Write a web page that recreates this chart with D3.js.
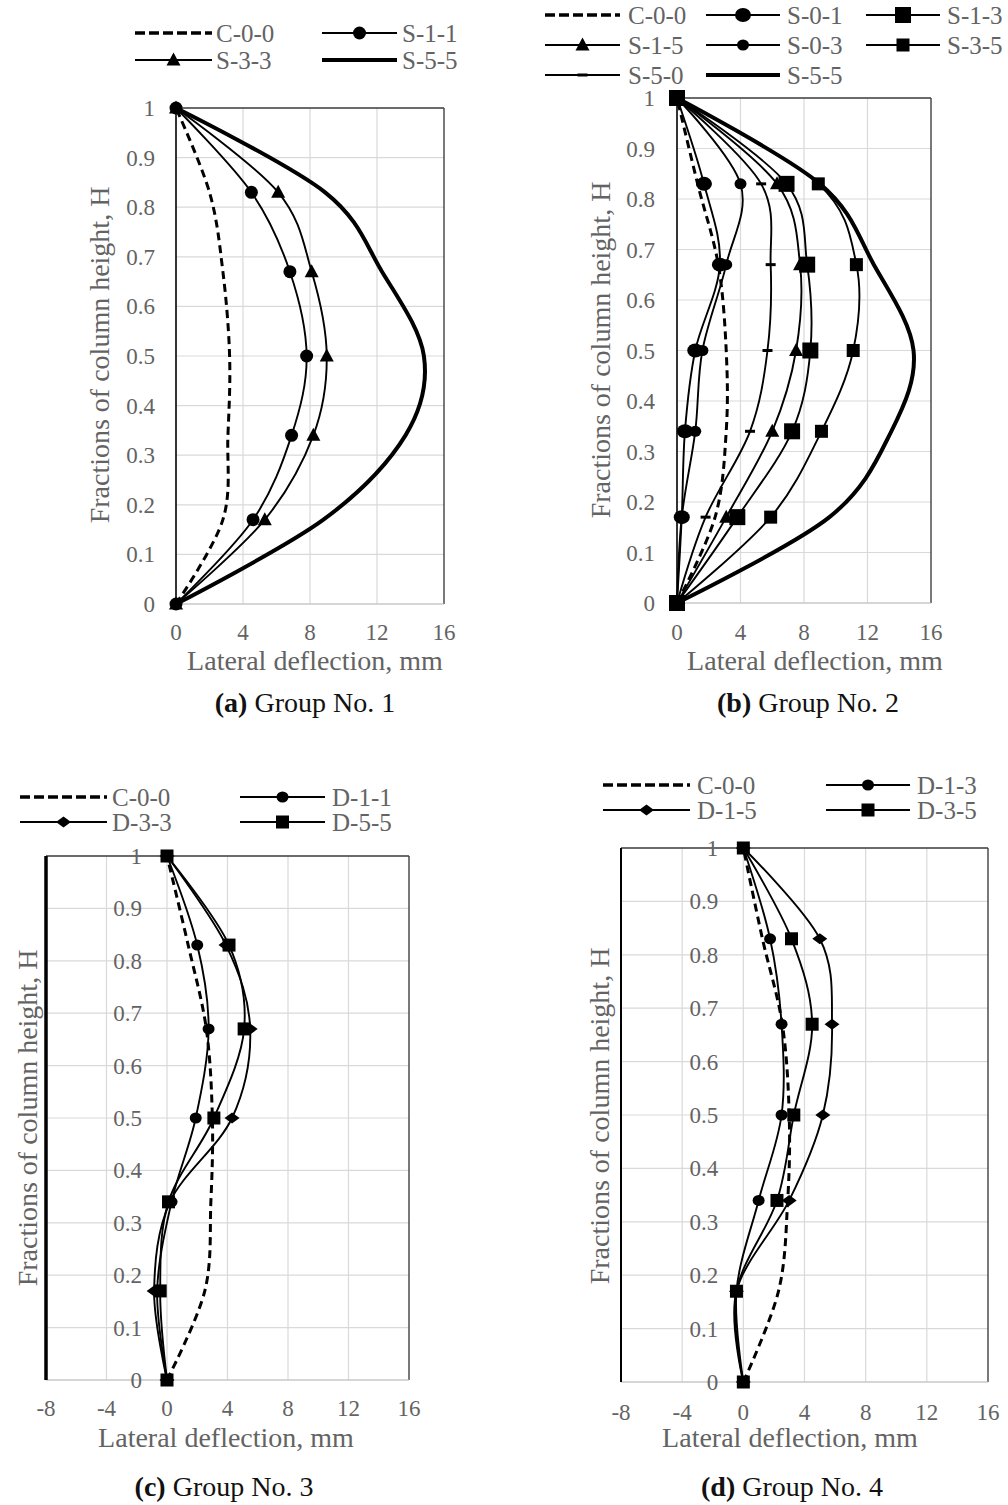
<!DOCTYPE html>
<html>
<head>
<meta charset="utf-8">
<script src="https://cdn.jsdelivr.net/npm/d3@7"></script>
<style>
    body { margin: 0; background: #fff; }
    svg text { font-family: "Liberation Serif", "Times New Roman", serif; }
</style>
</head>
<body>
<div id="chart"></div>
<script>
// heights where deflections were read (fraction of column height)
const heights = [0, 0.17, 0.34, 0.5, 0.67, 0.83, 1];
const yTicks = [0, 0.1, 0.2, 0.3, 0.4, 0.5, 0.6, 0.7, 0.8, 0.9, 1];
const xTicksAB = [0, 4, 8, 12, 16];
const xTicksCD = [-8, -4, 0, 4, 8, 12, 16];

// Group No. 1 (mm)
const g1C000 = [0, 2.8, 3.1, 3.2, 2.8, 2.0, 0];
const g1S11 = [0, 4.6, 6.9, 7.8, 6.8, 4.5, 0];
const g1S33 = [0, 5.3, 8.2, 9.0, 8.1, 6.1, 0];
const g1S55 = [0, 8.8, 13.7, 14.8, 12.3, 8.9, 0];

// Group No. 2
const g2C000 = [0, 2.4, 3.1, 3.1, 2.6, 1.3, 0];
const g2S01 = [0, 0.3, 0.5, 1.15, 2.7, 1.7, 0];
const g2S13 = [0, 3.8, 7.25, 8.4, 8.2, 6.9, 0];
const g2S15 = [0, 3.1, 6.0, 7.5, 7.75, 6.3, 0];
const g2S03 = [0, 0.3, 1.15, 1.6, 3.1, 4.0, 0];
const g2S35 = [0, 5.9, 9.1, 11.1, 11.3, 8.9, 0];
const g2S50 = [0, 1.8, 4.6, 5.7, 5.9, 5.3, 0];
const g2S55 = [0, 9.6, 13.5, 14.9, 12.4, 9.0, 0];

// Group No. 3
const g3C000 = [0, 2.5, 2.9, 3.0, 2.6, 1.4, 0];
const g3D11 = [0, -0.65, 0.3, 1.9, 2.75, 2.0, 0];
const g3D33 = [0, -0.85, 0.2, 4.3, 5.5, 3.9, 0];
const g3D55 = [0, -0.45, 0.1, 3.1, 5.1, 4.1, 0];

// Group No. 4
const g4C000 = [0, 2.3, 2.9, 3.0, 2.55, 1.25, 0];
const g4D13 = [0, -0.45, 1.0, 2.5, 2.5, 1.75, 0];
const g4D15 = [0, -0.45, 3.0, 5.2, 5.8, 5.0, 0];
const g4D35 = [0, -0.45, 2.2, 3.3, 4.5, 3.15, 0];

const TEXT_GREY = "#636363";

// draws one marker shape centred on (cx, cy)
function drawMarker(sel, type, cx, cy) {
    if (!type) return;
    const g = sel.append("g").attr("transform", "translate(" + cx + "," + cy + ")");
    if (type === "dot") g.append("circle").attr("r", 6.5);
    else if (type === "bigdot") g.append("ellipse").attr("rx", 8).attr("ry", 7);
    else if (type === "smalldot") g.append("ellipse").attr("rx", 6).attr("ry", 5.5);
    else if (type === "tri") g.append("path").attr("d", "M0,-7.5L7,5.5L-7,5.5Z");
    else if (type === "bigsq") g.append("rect").attr("x", -8).attr("y", -8).attr("width", 16).attr("height", 16);
    else if (type === "sq") g.append("rect").attr("x", -6.5).attr("y", -6.5).attr("width", 13).attr("height", 13);
    else if (type === "bar") g.append("rect").attr("x", -5).attr("y", -1.5).attr("width", 10).attr("height", 3);
    else if (type === "diamond") g.append("path").attr("d", "M0,-5.5L7.5,0L0,5.5L-7.5,0Z");
    g.selectAll("*").attr("fill", "#000");
}

function lineStyle(path, kind) {
    path.attr("fill", "none").attr("stroke", "#000");
    if (kind === "dash") path.attr("stroke-width", 3).attr("stroke-dasharray", "8,5");
    else if (kind === "thick") path.attr("stroke-width", 4);
    else path.attr("stroke-width", 1.9);
}

class deflectionPanel {

    constructor(_svg, _cfg) {
        this.svg = _svg;
        this.cfg = _cfg;
        this.initVis();
    }

    initVis() {
        let vis = this;
        let c = vis.cfg;

        vis.x = d3.scaleLinear().domain(c.xDomain).range([c.left, c.right]);
        vis.y = d3.scaleLinear().domain([0, 1]).range([c.bottom, c.top]);

        vis.g = vis.svg.append("g");

        // grid
        vis.g.selectAll(".hgrid").data(yTicks).enter().append("line")
            .attr("x1", c.left).attr("x2", c.right)
            .attr("y1", d => vis.y(d)).attr("y2", d => vis.y(d))
            .attr("stroke", "#d9d9d9").attr("stroke-width", 1.2);
        vis.g.selectAll(".vgrid").data(c.xTicks.slice(1, -1)).enter().append("line")
            .attr("x1", d => vis.x(d)).attr("x2", d => vis.x(d))
            .attr("y1", c.top).attr("y2", c.bottom)
            .attr("stroke", "#d9d9d9").attr("stroke-width", 1.2);

        // frame
        vis.g.append("line").attr("x1", c.left).attr("x2", c.right).attr("y1", c.top).attr("y2", c.top)
            .attr("stroke", "#404040").attr("stroke-width", 1.4);
        vis.g.append("line").attr("x1", c.right).attr("x2", c.right).attr("y1", c.top).attr("y2", c.bottom)
            .attr("stroke", "#404040").attr("stroke-width", 1.4);
        vis.g.append("line").attr("x1", c.left).attr("x2", c.right).attr("y1", c.bottom).attr("y2", c.bottom)
            .attr("stroke", "#bfbfbf").attr("stroke-width", 1.2);
        vis.g.append("line").attr("x1", c.left).attr("x2", c.left).attr("y1", c.top).attr("y2", c.bottom)
            .attr("stroke", "#000").attr("stroke-width", c.leftWidth);

        // y tick labels sit next to x = 0
        let x0 = vis.x(0);
        vis.g.selectAll(".ylab").data(yTicks).enter().append("text")
            .attr("x", x0 - c.yLabGap).attr("y", d => vis.y(d) + 8)
            .attr("text-anchor", "end").attr("font-size", 23).attr("fill", TEXT_GREY)
            .text(d => d3.format("~g")(d));

        vis.g.selectAll(".xlab").data(c.xTicks).enter().append("text")
            .attr("x", d => vis.x(d)).attr("y", c.xLabY)
            .attr("text-anchor", "middle").attr("font-size", 23).attr("fill", TEXT_GREY)
            .text(d => d);

        vis.g.append("text")
            .attr("x", c.xTitle[0]).attr("y", c.xTitle[1])
            .attr("text-anchor", "middle").attr("font-size", 28).attr("fill", TEXT_GREY)
            .text("Lateral deflection, mm");

        vis.g.append("text")
            .attr("transform", "translate(" + c.yTitle[0] + "," + c.yTitle[1] + ") rotate(-90)")
            .attr("dy", "0.35em")
            .attr("text-anchor", "middle").attr("font-size", 28).attr("fill", TEXT_GREY)
            .text("Fractions of column height, H");

        let cap = vis.g.append("text")
            .attr("x", c.caption[0]).attr("y", c.caption[1])
            .attr("text-anchor", "middle").attr("font-size", 28).attr("fill", "#111");
        cap.append("tspan").attr("font-weight", "bold").text(c.captionTag);
        cap.append("tspan").text(" " + c.captionText);

        // series
        let line = d3.line()
            .x(d => vis.x(d[0]))
            .y(d => vis.y(d[1]))
            .curve(d3.curveCatmullRom.alpha(0));

        c.series.forEach(s => {
            let pts = s.values.map((v, i) => [v, heights[i]]);
            let p = vis.g.append("path").attr("d", line(pts));
            lineStyle(p, s.kind);
            pts.forEach(d => drawMarker(vis.g, s.marker, vis.x(d[0]), vis.y(d[1])));
        });

        // legend
        c.series.forEach((s, i) => {
            let col = i % c.legend.cols.length;
            let row = Math.floor(i / c.legend.cols.length);
            let lc = c.legend.cols[col];
            let ly = c.legend.rows[row];
            let p = vis.g.append("path").attr("d", "M" + lc[0] + "," + ly + "H" + lc[1]);
            lineStyle(p, s.kind);
            if (s.kind === "dash") p.attr("stroke-dasharray", "10,4").attr("stroke-width", 3.5);
            drawMarker(vis.g, s.marker, (lc[0] + lc[1]) / 2, ly);
            vis.g.append("text")
                .attr("x", lc[2]).attr("y", ly + 8.5)
                .attr("font-size", 25).attr("fill", TEXT_GREY)
                .text(s.name);
        });
    }
}

let svg = d3.select("#chart").append("svg")
    .attr("width", 1008).attr("height", 1505);

new deflectionPanel(svg, {
    xDomain: [0, 16], xTicks: xTicksAB,
    left: 176, right: 444, top: 108, bottom: 604, leftWidth: 1.6,
    yLabGap: 21, xLabY: 640, xTitle: [315, 670], yTitle: [99, 355],
    caption: [305, 712], captionTag: "(a)", captionText: "Group No. 1",
    legend: { rows: [33, 60], cols: [[135, 212, 216], [322, 397, 402]] },
    series: [
        { name: "C-0-0", values: g1C000, kind: "dash", marker: null },
        { name: "S-1-1", values: g1S11, kind: "thin", marker: "dot" },
        { name: "S-3-3", values: g1S33, kind: "thin", marker: "tri" },
        { name: "S-5-5", values: g1S55, kind: "thick", marker: null }
    ]
});

new deflectionPanel(svg, {
    xDomain: [0, 16], xTicks: xTicksAB,
    left: 677, right: 931, top: 98, bottom: 603, leftWidth: 1.6,
    yLabGap: 22, xLabY: 640, xTitle: [815, 670], yTitle: [600, 350],
    caption: [808, 712], captionTag: "(b)", captionText: "Group No. 2",
    legend: { rows: [15, 45, 75], cols: [[545, 620, 628], [706, 780, 787], [866, 940, 947]] },
    series: [
        { name: "C-0-0", values: g2C000, kind: "dash", marker: null },
        { name: "S-0-1", values: g2S01, kind: "thin", marker: "bigdot" },
        { name: "S-1-3", values: g2S13, kind: "thin", marker: "bigsq" },
        { name: "S-1-5", values: g2S15, kind: "thin", marker: "tri" },
        { name: "S-0-3", values: g2S03, kind: "thin", marker: "smalldot" },
        { name: "S-3-5", values: g2S35, kind: "thin", marker: "sq" },
        { name: "S-5-0", values: g2S50, kind: "thin", marker: "bar" },
        { name: "S-5-5", values: g2S55, kind: "thick", marker: null }
    ]
});

new deflectionPanel(svg, {
    xDomain: [-8, 16], xTicks: xTicksCD,
    left: 46, right: 409, top: 856, bottom: 1380, leftWidth: 3.5,
    yLabGap: 25, xLabY: 1416, xTitle: [226, 1447], yTitle: [27, 1118],
    caption: [224, 1496], captionTag: "(c)", captionText: "Group No. 3",
    legend: { rows: [797, 822], cols: [[20, 107, 112], [240, 325, 332]] },
    series: [
        { name: "C-0-0", values: g3C000, kind: "dash", marker: null },
        { name: "D-1-1", values: g3D11, kind: "thin", marker: "smalldot" },
        { name: "D-3-3", values: g3D33, kind: "thin", marker: "diamond" },
        { name: "D-5-5", values: g3D55, kind: "thin", marker: "sq" }
    ]
});

new deflectionPanel(svg, {
    xDomain: [-8, 16], xTicks: xTicksCD,
    left: 621, right: 988, top: 848, bottom: 1382, leftWidth: 2,
    yLabGap: 25, xLabY: 1420, xTitle: [790, 1447], yTitle: [599, 1116],
    caption: [792, 1496], captionTag: "(d)", captionText: "Group No. 4",
    legend: { rows: [785, 810], cols: [[603, 690, 697], [826, 910, 917]] },
    series: [
        { name: "C-0-0", values: g4C000, kind: "dash", marker: null },
        { name: "D-1-3", values: g4D13, kind: "thin", marker: "smalldot" },
        { name: "D-1-5", values: g4D15, kind: "thin", marker: "diamond" },
        { name: "D-3-5", values: g4D35, kind: "thin", marker: "sq" }
    ]
});
</script>
</body>
</html>
